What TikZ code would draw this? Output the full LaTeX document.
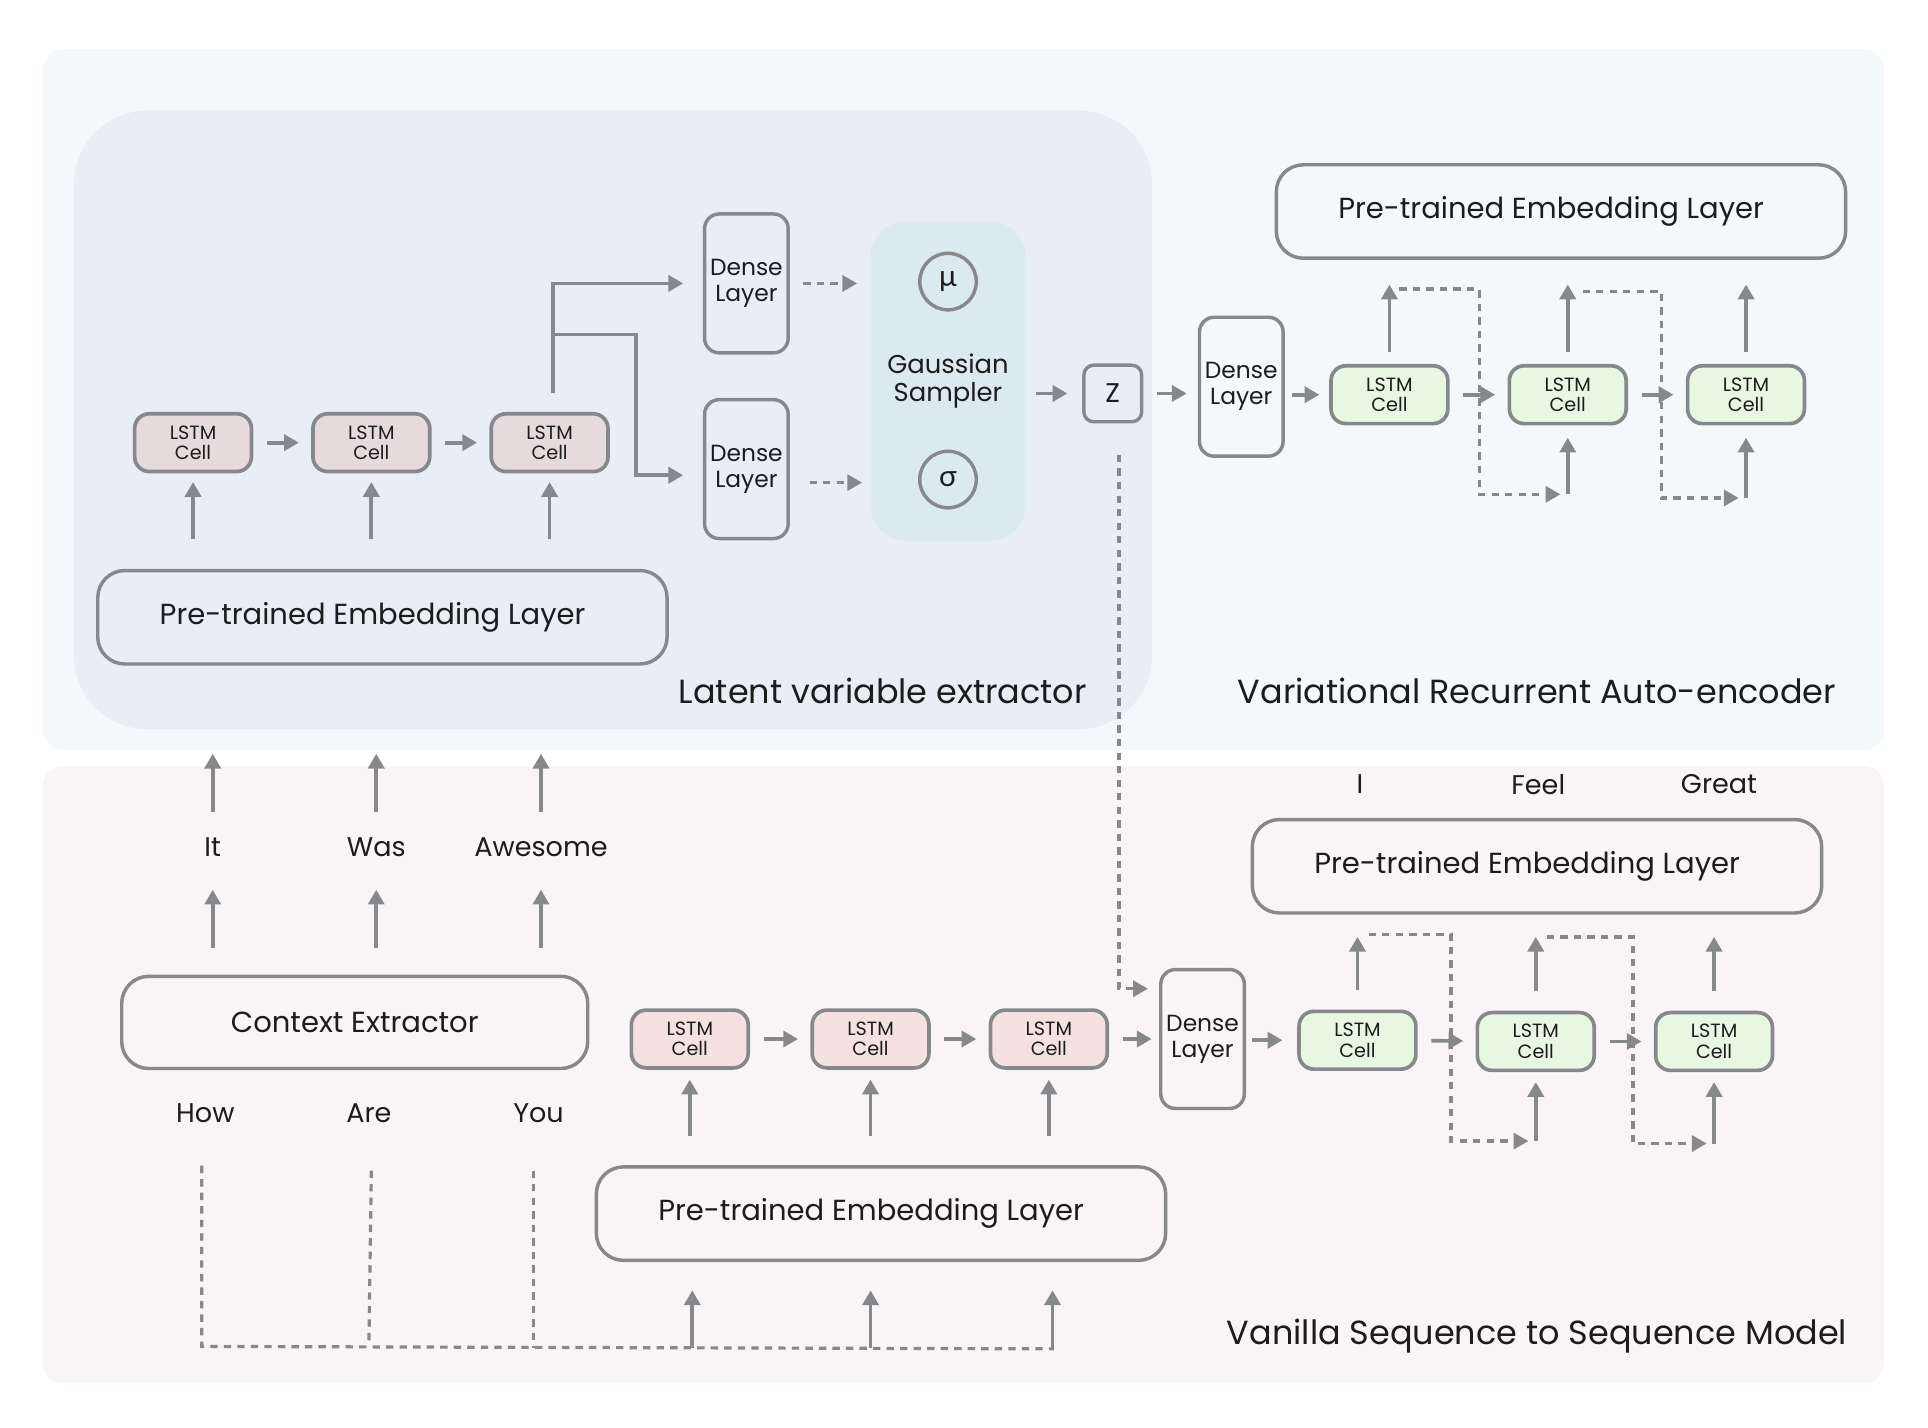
\documentclass[tikz,border=0pt]{standalone}
\usepackage{fontspec}
\setmainfont{Poppins}
\newfontfamily\greekfont{Lato}
\usetikzlibrary{arrows.meta,positioning,calc}
\definecolor{linegray}{HTML}{86888C}
\definecolor{toppanel}{HTML}{F3F8FA}
\definecolor{botpanel}{HTML}{F9F5F6}
\definecolor{latpanel}{HTML}{E9EEF5}
\definecolor{sampfill}{HTML}{DBE9F0}
\definecolor{cellmauve}{HTML}{E7DADC}
\definecolor{cellpink}{HTML}{F5E1E1}
\definecolor{cellgreen}{HTML}{E7F7E1}
\definecolor{inkcol}{HTML}{1C1C1C}

\tikzset{
  arr/.style={draw=linegray, line width=1.5pt, -{Triangle[length=6pt,width=6.5pt]}},
  dasharr/.style={arr, line width=1.3pt, dash pattern=on 3pt off 2.5pt},
  dashline/.style={draw=linegray, line width=1.3pt, dash pattern=on 3pt off 2.5pt},
  gap/.style={shorten <=5.5pt, shorten >=5pt},
  cell/.style={draw=linegray, line width=1.5pt, rounded corners=6pt, minimum width=47.5pt,
    minimum height=23.5pt, inner sep=0pt, align=center, text=inkcol,
    font=\fontsize{7.8}{8.3}\selectfont},
  densebox/.style={draw=linegray, line width=1.4pt, rounded corners=6pt, minimum width=34pt,
    minimum height=56.5pt, inner sep=0pt, align=center, text=inkcol,
    font=\fontsize{9.5}{10.5}\selectfont},
  layerbox/.style={draw=linegray, line width=1.4pt, rounded corners=11pt, minimum width=231.5pt,
    minimum height=38pt, inner sep=0pt, text=inkcol, font=\fontsize{11.8}{12}\selectfont},
  greekball/.style={circle, draw=linegray, line width=1.4pt, minimum size=23pt, inner sep=0pt,
    text=inkcol, font=\greekfont\fontsize{12}{12}\selectfont},
  word/.style={text=inkcol, font=\fontsize{11}{12}\selectfont, inner sep=1pt},
  paneltitle/.style={text=inkcol, font=\fontsize{13.6}{14}\selectfont},
}

\begin{document}
\begin{tikzpicture}[x=0.5pt, y=-0.5pt]
  \useasboundingbox (0,0) rectangle (1568,1161);
  % panels
  \fill[toppanel, rounded corners=8pt] (35,40) rectangle (1532,610);
  \fill[botpanel, rounded corners=8pt] (35,623) rectangle (1532,1125);
  \fill[latpanel, rounded corners=30pt] (60,90) rectangle (937,593);

  \node[paneltitle] at (718,562) {Latent variable extractor};
  \node[paneltitle] at (1250,562) {Variational Recurrent Auto-encoder};
  \node[paneltitle] at (1250,1087) {Vanilla Sequence to Sequence Model};

  % latent variable extractor
  \node[layerbox] (embL) at (311,502) {Pre-trained Embedding Layer\hspace*{8pt}};
  \node[cell, fill=cellmauve] (l1) at (157,360) {LSTM\\Cell};
  \node[cell, fill=cellmauve] (l2) at (302,360) {LSTM\\Cell};
  \node[cell, fill=cellmauve] (l3) at (447,360) {LSTM\\Cell};
  \draw[arr, gap] (l1) -- (l2);
  \draw[arr, gap] (l2) -- (l3);
  \foreach \c in {l1,l2,l3}
    \draw[arr, shorten <=12pt, shorten >=3.5pt] (\c |- embL.north) -- (\c);

  \node[densebox] (dA) at (607,230.5) {Dense\\Layer};
  \node[densebox] (dB) at (607,381.5) {Dense\\Layer};
  \node[fill=sampfill, rounded corners=15pt, minimum width=63.5pt, minimum height=130pt,
    align=center, text=inkcol, font=\fontsize{10.5}{11.5}\selectfont] (gs) at (771,310)
    {Gaussian\\Sampler};
  \node[greekball] (mu) at (771,229) {μ};
  \node[greekball] (sig) at (771,390) {σ};
  \node[draw=linegray, line width=1.4pt, rounded corners=4pt, minimum width=23.5pt,
    minimum height=23pt, inner sep=0pt, text=inkcol, font=\fontsize{11}{11}\selectfont]
    (z) at (905,320) {Z};

  \coordinate (bj) at (450,272);
  \draw[arr, shorten >=8pt] ($(l3.north)+(3,-15)$) |- (dA.west);
  \draw[arr, shorten >=8pt] (bj) -- ++(67,0) |- ($(dB.west)+(0,5)$);
  \draw[dasharr, gap] (dA.east) -- (dA.east -| gs.west);
  \draw[dasharr, shorten <=8pt, shorten >=3pt] ($(dB.east)+(0,11)$) -- ($(dB.east -| gs.west)+(0,11)$);
  \draw[arr, shorten <=4pt, shorten >=6pt] (gs.east |- z) -- (z);

  % variational recurrent auto-encoder
  \node[layerbox] (embV) at (1269.5,172) {Pre-trained Embedding Layer\hspace*{8pt}};
  \node[densebox] (dV) at (1009.5,314.5) {Dense\\Layer};
  \node[cell, fill=cellgreen] (v1) at (1130,321) {LSTM\\Cell};
  \node[cell, fill=cellgreen] (v2) at (1275,321) {LSTM\\Cell};
  \node[cell, fill=cellgreen] (v3) at (1420,321) {LSTM\\Cell};
  \draw[arr, shorten <=5.5pt, shorten >=4.5pt] (z) -- (z -| dV.west);
  \draw[arr, shorten <=3pt, shorten >=4pt] (dV.east |- v1) -- (v1);
  \draw[arr, gap] (v1) -- (v2);
  \draw[arr, gap] (v2) -- (v3);
  \foreach \c in {v1,v2,v3}
    \draw[arr, shorten <=5pt, shorten >=10pt] (\c) -- (\c |- embV.south);
  \coordinate (vin2) at (1275,402);
  \coordinate (vin3) at (1420,405);
  \draw[arr, shorten >=5pt] (vin2) -- (v2);
  \draw[arr, shorten >=5pt] (vin3) -- (v3);
  \draw[dasharr, shorten >=3pt] (1138,235) -- ++(65,0) |- (vin2);
  \draw[dasharr, shorten >=3pt] (1287,237) -- ++(64,0) |- (vin3);

  % vanilla sequence to sequence model
  \node[word] (wIt) at (173,689) {It};
  \node[word] (wWas) at (306,689) {Was};
  \node[word] (wAwe) at (440,689) {Awesome};
  \node[layerbox, minimum width=189.5pt, minimum height=37.5pt] (ce) at (288.5,831.5) {Context Extractor};
  \node[word] (wHow) at (167,905) {How};
  \node[word] (wAre) at (300,905) {Are};
  \node[word] (wYou) at (438,905) {You};
  \foreach \w in {wIt,wWas,wAwe} {
    \draw[arr] ($(\w)+(0,-29)$) -- ++(0,-47);
    \draw[arr] ($(\w |- ce.north)+(0,-22)$) -- ++(0,-47);
  }

  \node[layerbox] (eS) at (716.5,987) {Pre-trained Embedding Layer\hspace*{8pt}};
  \node[cell, fill=cellpink] (s1) at (561,845) {LSTM\\Cell};
  \node[cell, fill=cellpink] (s2) at (708,845) {LSTM\\Cell};
  \node[cell, fill=cellpink] (s3) at (853,845) {LSTM\\Cell};
  \node[densebox] (dS) at (978,845) {Dense\\Layer};
  \draw[arr, gap] (s1) -- (s2);
  \draw[arr, gap] (s2) -- (s3);
  \draw[arr, shorten <=5.5pt, shorten >=3pt] (s3) -- (s3 -| dS.west);
  \foreach \c in {s1,s2,s3}
    \draw[arr, shorten <=12pt, shorten >=4pt] (\c |- eS.north) -- (\c);

  \coordinate (busL) at (164,1095);
  \coordinate (busR) at (857,1097);
  \draw[dashline] ($(wHow)+(-3,43)$) -- (busL) -- (busR);
  \draw[dashline] ($(wAre)+(2,47)$) -- (wAre |- busL);
  \draw[dashline] ($(wYou)+(-4,47)$) -- ($(wYou)+(-4,191)$);
  \foreach \c/\dx in {s1/2,s2/0,s3/3}
    \draw[arr, shorten >=11.5pt] ($(\c |- busL)+(\dx,1)$) -- ($(\c |- eS.south)+(\dx,0)$);

  \coordinate (zdrop) at (910,370);
  \draw[dasharr, shorten >=4.5pt] (zdrop) |- ($(dS.north west)+(0,17)$);

  \node[layerbox] (embR) at (1250,704.5) {Pre-trained Embedding Layer\hspace*{8pt}};
  \node[word] (wI) at (1106,638) {I};
  \node[word] (wFeel) at (1251,638) {Feel};
  \node[word] (wGreat) at (1398,638) {Great};
  \node[cell, fill=cellgreen] (g1) at (1104,846) {LSTM\\Cell};
  \node[cell, fill=cellgreen] (g2) at (1249,847) {LSTM\\Cell};
  \node[cell, fill=cellgreen] (g3) at (1394,847) {LSTM\\Cell};
  \draw[arr, shorten <=2.5pt, shorten >=6pt] (dS.east |- g1) -- (g1);
  \draw[arr, gap] (g1) -- (g2);
  \draw[arr, gap] (g2) -- (g3);
  \foreach \c in {g1,g2,g3}
    \draw[arr, shorten <=8pt, shorten >=9pt] (\c) -- (\c |- embR.south);
  \coordinate (gin2) at (1249,928);
  \coordinate (gin3) at (1394,930);
  \draw[arr, shorten >=4pt] (gin2) -- (g2);
  \draw[arr, shorten >=4pt] (gin3) -- (g3);
  \draw[dasharr, shorten >=3pt] (1113,760) -- ++(67,0) |- (gin2);
  \draw[dasharr, shorten >=3pt] (1258,762) -- ++(70,0) |- (gin3);
\end{tikzpicture}
\end{document}
